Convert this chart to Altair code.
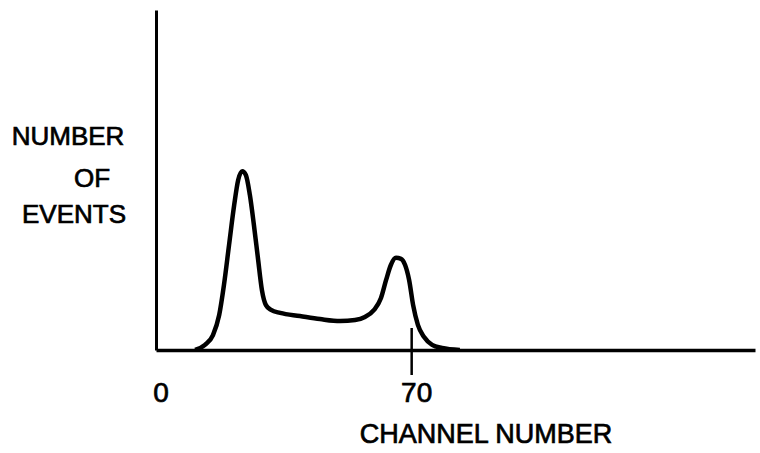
import altair as alt
import pandas as pd

# Pulse-height spectrum: counts per channel
channels = [10.7, 13.4, 15.6, 17.3, 18.6, 20.0, 21.4, 22.5, 23.6, 24.6, 25.7, 26.8,
            27.9, 29.0, 30.1, 31.5, 34.0, 39.4, 44.9, 50.4, 54.5, 57.2, 59.7, 61.6,
            63.0, 64.3, 65.7, 67.1, 68.2, 69.3, 70.4, 71.7, 73.4, 75.6, 78.3, 83.2]
events = [0.0, 1.5, 4.4, 10.3, 19.1, 30.9, 42.6, 50.0, 52.6, 51.5, 45.6, 36.8,
          27.1, 17.6, 13.2, 11.8, 10.9, 10.0, 9.1, 8.5, 8.8, 9.7, 11.8, 15.3,
          20.6, 25.0, 27.1, 26.8, 25.0, 20.6, 13.2, 7.4, 3.8, 1.5, 0.6, 0.0]

tick_channels = [0, 70]
tick_labels = ["0", "70"]
marked_channel = [70]

x_title = "CHANNEL NUMBER"
y_title_lines = ["NUMBER", "OF", "EVENTS"]

FONT = "Liberation Sans"
TEXT_STYLE = dict(font=FONT, color="black", stroke="black", strokeWidth=0.7,
                  align="center", baseline="alphabetic")

spectrum = pd.DataFrame({"channel": channels, "events": events})
ticks = pd.DataFrame({"channel": tick_channels, "label": tick_labels})
marker = pd.DataFrame({"channel": marked_channel})

x_scale = alt.Scale(domain=[0, 164], nice=False, zero=False)
y_scale = alt.Scale(domain=[0, 100], nice=False)

x_axis = alt.Axis(domain=True, domainColor="black", domainWidth=3.5, ticks=False,
                  labels=False, grid=False, title=None)
y_axis = alt.Axis(domain=True, domainColor="black", domainWidth=3, ticks=False,
                  labels=False, grid=False, title=None)

curve = alt.Chart(spectrum).mark_line(
    color="black", strokeWidth=4.5, interpolate="monotone", clip=True
).encode(
    x=alt.X("channel:Q", scale=x_scale, axis=x_axis),
    y=alt.Y("events:Q", scale=y_scale, axis=y_axis),
)

marker_rule = alt.Chart(marker).mark_rule(color="black", strokeWidth=2.5).encode(
    x=alt.X("channel:Q", scale=x_scale),
    y=alt.value(318),
    y2=alt.value(365),
)

tick_text = alt.Chart(ticks).mark_text(fontSize=28, dx=5, **TEXT_STYLE).encode(
    x=alt.X("channel:Q", scale=x_scale),
    y=alt.value(392),
    text="label:N",
)

x_title_text = alt.Chart(pd.DataFrame({"t": [x_title]})).mark_text(
    fontSize=27, **TEXT_STYLE
).encode(x=alt.value(330), y=alt.value(433), text="t:N")

y_pos = pd.DataFrame({
    "t": y_title_lines,
    "px": [-88, -64, -82],
    "py": [135, 177, 213],
})
y_title_text = alt.Chart(y_pos).mark_text(fontSize=26, **TEXT_STYLE).encode(
    x=alt.X("px:Q", scale=None),
    y=alt.Y("py:Q", scale=None),
    text="t:N",
)

chart = alt.layer(
    curve, marker_rule, tick_text, x_title_text, y_title_text
).properties(
    width=599,
    height=340,
    autosize=alt.AutoSizeParams(type="none"),
    padding={"left": 156, "top": 10, "right": 5, "bottom": 103},
    background="white",
).configure_view(stroke=None)

chart.save("out.html", embed_options={"renderer": "svg", "actions": False})
